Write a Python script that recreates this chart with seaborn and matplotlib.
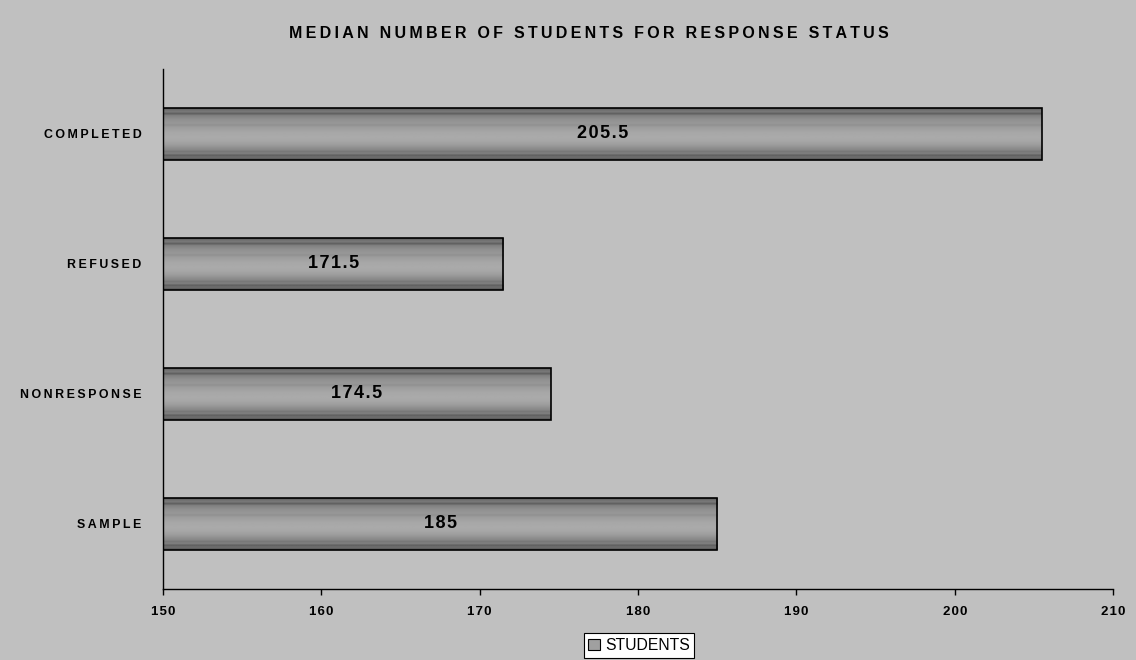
import numpy as np
import pandas as pd
import matplotlib
matplotlib.use("Agg")
import matplotlib.pyplot as plt
from matplotlib.patches import Patch
import seaborn as sns

categories = ["COMPLETED", "REFUSED", "NONRESPONSE", "SAMPLE"]
students = [205.5, 171.5, 174.5, 185]
value_labels = ["205.5", "171.5", "174.5", "185"]
x_ticks = [150, 160, 170, 180, 190, 200, 210]

BG = "#c0c0c0"
# vertical shading profile of a bar (top -> bottom), grey levels 0-255
SHADE = [0x50, 0x70, 0x78, 0x60, 0x80, 0x88, 0x90, 0x94, 0x98, 0x90, 0x9c,
         0xa0, 0xa4, 0xa8, 0xa8, 0xaa, 0xaa, 0xa8, 0xa4, 0xa0, 0x98, 0x90,
         0x88, 0x78, 0x80, 0x60, 0x70, 0x58]

THIN = "\u2009"
HAIR = "\u200a"


def spaced(s, gap=THIN):
    """Widen the letter spacing by putting a narrow space between characters."""
    return gap.join(s)


sns.set_theme(style="white")
plt.rcParams["font.family"] = ["Liberation Sans", "DejaVu Sans"]
plt.rcParams["text.color"] = "black"
plt.rcParams["xtick.color"] = "black"
plt.rcParams["ytick.color"] = "black"

df = pd.DataFrame({"status": categories, "students": students})

fig = plt.figure(figsize=(11.36, 6.6), dpi=100, facecolor=BG)
ax = fig.add_axes([0.1435, 0.1076, 0.8363, 0.7879], facecolor=BG)

sns.barplot(data=df, x="students", y="status", orient="h", color="#a0a0a0",
            width=0.4, edgecolor="black", linewidth=1.2, ax=ax, zorder=2)

ax.set_xlim(150, 210)
ax.set_ylim(3.5, -0.5)

# shaded fill for each bar, clipped to the bar rectangle
shade = np.array(SHADE, dtype=float)[:, None] / 255.0
for bar in ax.patches:
    x0, y0 = bar.get_x(), bar.get_y()
    w, h = bar.get_width(), bar.get_height()
    x_left = max(x0, 150)
    im = ax.imshow(np.repeat(shade, 2, axis=1), cmap="gray", vmin=0, vmax=1,
                   extent=[x_left, x0 + w, y0 + h, y0], aspect="auto",
                   interpolation="bilinear", zorder=2.5)
    im.set_clip_path(bar)
    bar.set_facecolor("none")
    bar.set_zorder(3)

for bar, txt in zip(ax.patches, value_labels):
    cx = (max(bar.get_x(), 150) + bar.get_x() + bar.get_width()) / 2
    cy = bar.get_y() + bar.get_height() / 2
    ax.text(cx, cy, spaced(txt, HAIR), ha="center", va="center", fontsize=13,
            fontweight="bold", color="black", zorder=4)

ax.set_xticks(x_ticks)
ax.set_xticklabels([spaced(str(t), HAIR) for t in x_ticks], fontsize=9.5,
                   fontweight="bold", color="black")
ax.set_yticks(range(len(categories)))
ax.set_yticklabels([spaced(c) for c in categories], fontsize=8.9,
                   fontweight="bold", color="black")
ax.tick_params(axis="x", direction="out", length=4, width=1, color="black",
               pad=8, bottom=True)
ax.tick_params(axis="y", length=0, pad=15.5)
ax.set_xlabel("")
ax.set_ylabel("")

for side in ["top", "right"]:
    ax.spines[side].set_visible(False)
for side in ["left", "bottom"]:
    ax.spines[side].set_visible(True)
    ax.spines[side].set_color("black")
    ax.spines[side].set_linewidth(1)

fig.text(0.518, 0.95, spaced("MEDIAN NUMBER OF STUDENTS FOR RESPONSE STATUS"),
         ha="center", va="center", fontsize=11.5, fontweight="bold",
         color="black")

handle = Patch(facecolor="#a0a0a0", edgecolor="black", linewidth=0.8)
leg = fig.legend([handle], ["STUDENTS"], loc="center",
                 bbox_to_anchor=(0.5625, 0.022), frameon=True, fancybox=False,
                 framealpha=1, edgecolor="black", fontsize=11.3,
                 handlelength=0.75, handleheight=0.75, handletextpad=0.3,
                 borderpad=0.3, borderaxespad=0)
leg.get_frame().set_linewidth(0.8)
leg.get_frame().set_facecolor("white")
for t in leg.get_texts():
    t.set_color("black")

fig.savefig("out.png", dpi=100, facecolor=BG)
